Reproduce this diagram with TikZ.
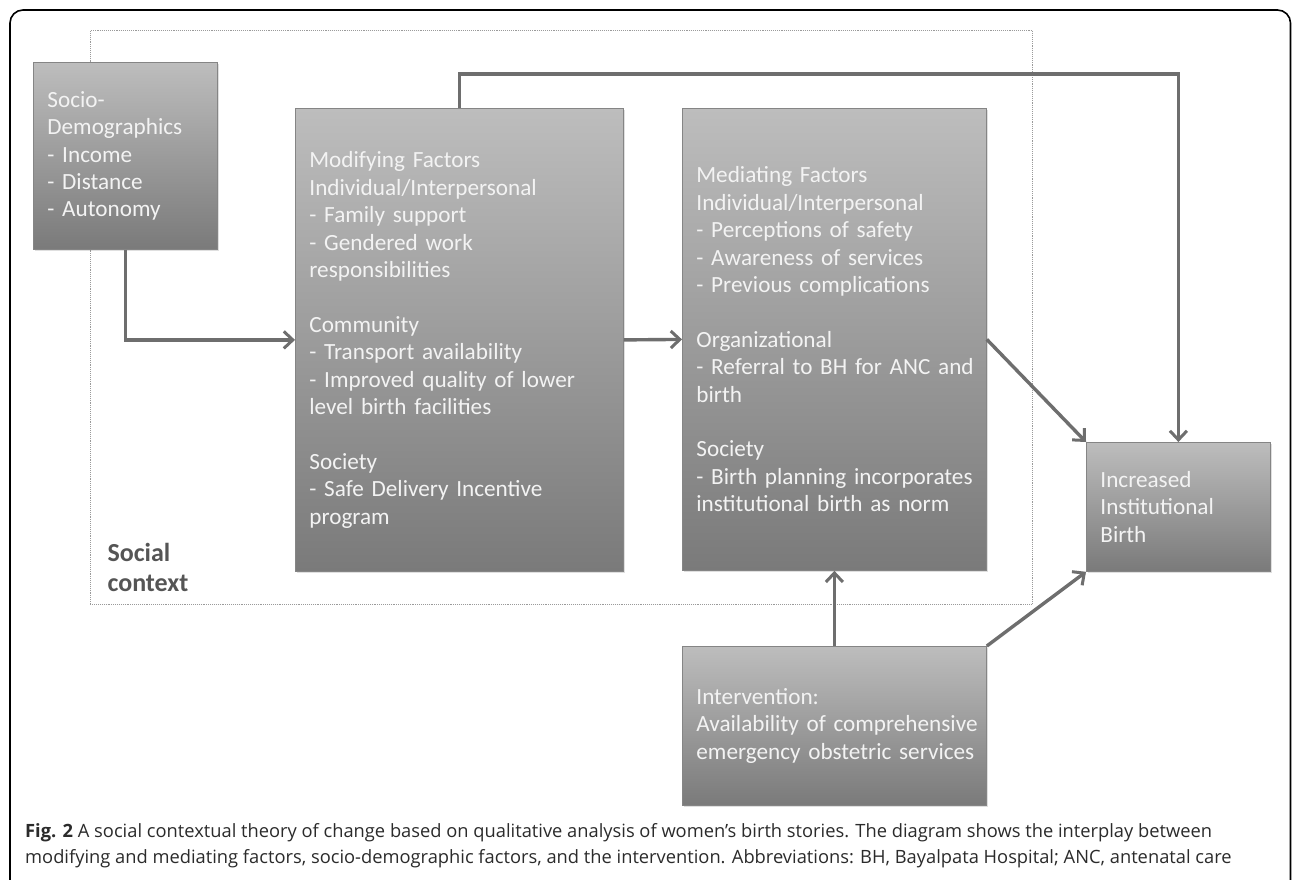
\documentclass[tikz,border=0pt]{standalone}
\usepackage{fontspec}
\usetikzlibrary{arrows.meta,shadows}
\newfontfamily\boxfontfam[WordSpace=0.8]{Carlito}
\newfontfamily\capfontfam{Open Sans}
\definecolor{boxtop}{HTML}{BDBDBD}
\definecolor{boxbot}{HTML}{7A7A7A}
\definecolor{boxedge}{HTML}{858585}
\definecolor{boxtext}{HTML}{F3F3F3}
\definecolor{conncol}{HTML}{6E6E6E}
\definecolor{dotcol}{HTML}{9A9A9A}
\definecolor{ctxtext}{HTML}{555555}
\definecolor{captext}{HTML}{2B2B2B}
\tikzset{
  fbox/.style={draw=boxedge, line width=0.8pt, top color=boxtop, bottom color=boxbot,
    text=boxtext, align=left, inner xsep=14pt, inner ysep=0pt, anchor=north west,
    font=\boxfontfam\fontsize{23.2}{27.4}\selectfont,
    drop shadow={opacity=0.25, shadow xshift=1.5pt, shadow yshift=-2pt}},
  conn/.style={draw=conncol, line width=3.4pt,
    -{Straight Barb[length=9pt,width=17pt,line width=3pt]}},
  ctxbox/.style={draw=dotcol, line width=0.9pt, densely dotted, anchor=north west,
    inner sep=0pt},
}
\begin{document}
\begin{tikzpicture}[x=1pt,y=-1pt]
\useasboundingbox (0,0) rectangle (1292,879);
\clip (0,0) rectangle (1292,879);
\fill[white] (0,0) rectangle (1292,879);
% outer frame
\draw[black, line width=1.6pt, rounded corners=13pt] (10,900) -- (10,10) -- (1290.5,10) -- (1290.5,900);
% social context
\node[ctxbox, minimum width=942pt, minimum height=574pt] (ctx) at (90,30) {};
\node[anchor=west, align=left, text=ctxtext, font=\boxfontfam\bfseries\fontsize{26}{30}\selectfont] (ctxlabel) at (104,567) {Social\\context};
% boxes
\node[fbox, text width=156pt, minimum height=187pt] (socio) at (33,62)
 {Socio-\\Demographics\\- Income\\- Distance\\- Autonomy};
\node[fbox, text width=300pt, minimum height=463pt] (modif) at (295,108)
 {Modifying Factors\\Individual/Interpersonal\\- Family support\\- Gendered work\\responsibilities\\[27.4pt]
  Community\\- Transport availability\\\mbox{- Improved quality of lower}\\level birth facilities\\[27.4pt]
  Society\\- Safe Delivery Incentive\\program};
\node[fbox, text width=276pt, minimum height=462pt] (medi) at (682,108)
 {Mediating Factors\\Individual/Interpersonal\\- Perceptions of safety\\- Awareness of services\\- Previous complications\\[27.4pt]
  Organizational\\\mbox{- Referral to BH for ANC and}\\birth\\[27.4pt]
  Society\\\mbox{- Birth planning incorporates}\\institutional birth as norm};
\node[fbox, text width=156pt, minimum height=129pt] (incr) at (1086,442)
 {Increased\\Institutional\\Birth};
\node[fbox, text width=276pt, minimum height=159pt] (interv) at (682,646)
 {Intervention:\\\mbox{Availability of comprehensive}\\\mbox{emergency obstetric services}};
% connectors
\draw[conn] (socio.south) |- (modif.west);
\draw[conn] (modif.east) -- (medi.west);
\draw[conn] (modif.north) -- ++(0,-34) -| (incr.north);
\draw[conn] (medi.east) -- (incr.north west);
\draw[conn] (interv.north) -- (medi.south);
\draw[conn] (interv.north east) -- (incr.south west);
% caption
\node[anchor=west, align=left, inner sep=0pt, text=captext, font=\capfontfam\fontsize{18.3}{25.5}\selectfont] (caption) at (25,845.5)
 {\textbf{Fig. 2} A social contextual theory of change based on qualitative analysis of women’s birth stories. The diagram shows the interplay between\\
  modifying and mediating factors, socio-demographic factors, and the intervention. Abbreviations: BH, Bayalpata Hospital; ANC, antenatal care};
\end{tikzpicture}
\end{document}
